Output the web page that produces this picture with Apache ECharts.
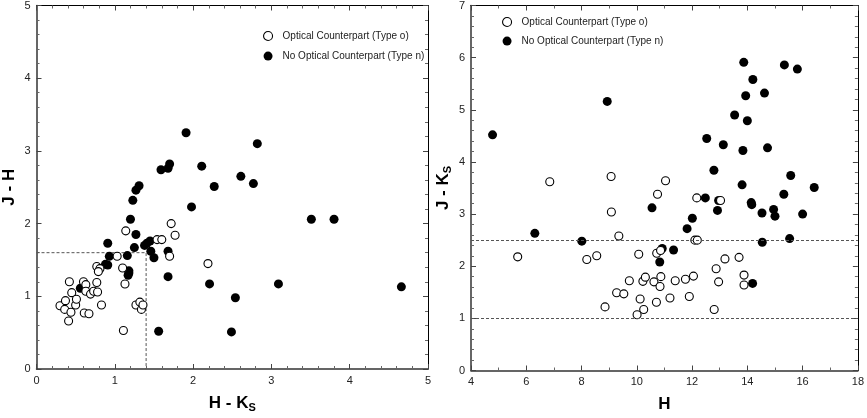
<!DOCTYPE html>
<html>
<head>
<meta charset="utf-8">
<script src="https://cdn.jsdelivr.net/npm/echarts@6/dist/echarts.min.js"></script>
<style>
html, body { margin: 0; padding: 0; background: #fff; }
#chart { width: 867px; height: 418px; }
</style>
</head>
<body>
<div id="chart"></div>
<script>
// left panel: [H - Ks, J - H]
var ccOptical = [
    [0.30, 0.87], [0.37, 0.94], [0.36, 0.82], [0.42, 1.20], [0.41, 0.66],
    [0.44, 0.78], [0.45, 1.05], [0.50, 0.88], [0.51, 0.96], [0.60, 1.20],
    [0.61, 0.77], [0.63, 1.16], [0.63, 1.07], [0.67, 0.76], [0.69, 1.03],
    [0.73, 1.07], [0.77, 1.19], [0.78, 1.06], [0.77, 1.41], [0.81, 1.38],
    [0.79, 1.34], [0.83, 0.88], [1.03, 1.55], [1.10, 1.39], [1.13, 1.17],
    [1.14, 1.90], [1.11, 0.53], [1.27, 0.88], [1.32, 0.92], [1.34, 0.82],
    [1.36, 0.88], [1.54, 1.78], [1.60, 1.78], [1.72, 2.00], [1.77, 1.84],
    [1.70, 1.55], [2.19, 1.45]
];
var ccNoOptical = [
    [0.56, 1.11], [0.91, 1.73], [0.93, 1.55], [0.88, 1.44], [0.91, 1.43],
    [1.16, 1.56], [1.20, 2.06], [1.23, 2.32], [1.27, 2.46], [1.31, 2.52],
    [1.27, 1.85], [1.25, 1.67], [1.18, 1.35], [1.17, 1.29], [1.18, 1.32],
    [1.38, 1.70], [1.41, 1.73], [1.45, 1.76], [1.46, 1.62], [1.50, 1.53],
    [1.56, 0.52], [1.59, 2.74], [1.68, 2.76], [1.70, 2.82], [1.68, 1.62],
    [1.68, 1.27], [1.91, 3.25], [1.98, 2.23], [2.11, 2.79], [2.21, 1.17],
    [2.27, 2.51], [2.49, 0.51], [2.54, 0.98], [2.61, 2.65], [2.77, 2.55],
    [2.82, 3.10], [3.09, 1.17], [3.51, 2.06], [3.80, 2.06], [4.66, 1.13]
];
// right panel: [H, J - Ks]
var cmOptical = [
    [5.69, 2.18], [6.85, 3.62], [8.19, 2.13], [8.55, 2.20], [8.85, 1.22],
    [9.07, 3.72], [9.08, 3.04], [9.27, 1.49], [9.35, 2.58], [9.53, 1.47],
    [9.73, 1.72], [10.01, 1.07], [10.07, 2.23], [10.12, 1.37], [10.22, 1.71],
    [10.25, 1.17], [10.31, 1.79], [10.62, 1.70], [10.71, 1.31], [10.72, 2.25],
    [10.75, 3.38], [10.84, 1.61], [10.87, 1.80], [10.86, 2.30], [11.04, 3.64],
    [11.20, 1.39], [11.39, 1.72], [11.76, 1.75], [11.90, 1.42], [12.05, 1.81],
    [12.10, 2.50], [12.19, 2.50], [12.17, 3.31], [12.80, 1.17], [12.87, 1.95],
    [12.96, 1.70], [13.03, 3.26], [13.19, 2.14], [13.70, 2.17], [13.88, 1.83],
    [13.88, 1.64]
];
var cmNoOptical = [
    [4.78, 4.52], [6.31, 2.63], [8.01, 2.48], [8.93, 5.16], [10.55, 3.12],
    [10.83, 2.08], [10.92, 2.34], [11.33, 2.31], [11.82, 2.72], [12.01, 2.92],
    [12.48, 3.31], [12.53, 4.45], [12.79, 3.84], [12.92, 3.07], [12.96, 3.26],
    [13.13, 4.33], [13.54, 4.90], [13.81, 3.56], [13.84, 4.22], [13.87, 5.91],
    [13.94, 5.27], [14.00, 4.79], [14.14, 3.22], [14.16, 3.18], [14.20, 5.58],
    [14.19, 1.67], [14.53, 3.02], [14.54, 2.46], [14.62, 5.32], [14.73, 4.27],
    [14.95, 3.09], [15.00, 2.96], [15.32, 3.38], [15.34, 5.86], [15.53, 2.53],
    [15.57, 3.74], [15.81, 5.78], [16.00, 3.00], [16.42, 3.51]
];
// dotted box in the left panel, dotted limits in the right panel
var ccBox = [[0, 1.6], [1.4, 1.6], [1.4, 0]];
var cmLimits = [2.5, 1.0];

var nameOptical = "Optical Counterpart (Type o)";
var nameNoOptical = "No Optical Counterpart (Type n)";

var font = "Liberation Sans";
var nameRich = {
    a: { fontFamily: font, fontSize: 17, fontWeight: "bold", color: "#000", lineHeight: 20 },
    s: { fontFamily: font, fontSize: 11, fontWeight: "bold", color: "#000", lineHeight: 12, verticalAlign: "bottom" }
};

function axis(opts) {
    var showLabel = opts.label !== false;
    return {
        type: "value",
        gridIndex: opts.grid,
        position: opts.position,
        min: opts.min,
        max: opts.max,
        interval: opts.interval,
        name: opts.name || "",
        nameLocation: "middle",
        nameGap: opts.nameGap || 0,
        nameTextStyle: { rich: nameRich },
        axisLine: { show: true, onZero: false, lineStyle: { color: opts.lineColor || "#000", width: opts.lineWidth || 1 } },
        axisTick: { show: true, inside: true, length: 5, lineStyle: { color: "#444" } },
        minorTick: { show: true, splitNumber: opts.minor, length: 3, lineStyle: { color: "#666" } },
        axisLabel: { show: showLabel, margin: 6, fontFamily: font, fontSize: 11, color: "#222" },
        splitLine: { show: false }
    };
}

function scatter(name, data, x, y, filled) {
    return {
        name: name,
        type: "scatter",
        xAxisIndex: x,
        yAxisIndex: y,
        data: data,
        symbol: "circle",
        symbolSize: filled ? 9 : 8,
        itemStyle: filled
            ? { color: "#000", borderColor: "#000", borderWidth: 0, opacity: 1 }
            : { color: "#fff", borderColor: "#000", borderWidth: 1.1, opacity: 1 },
        emphasis: { disabled: true },
        z: filled ? 3 : 4
    };
}

function legend(left, top, gap) {
    return {
        left: left,
        top: top,
        orient: "vertical",
        itemWidth: 9,
        itemHeight: 9,
        itemGap: gap,
        selectedMode: false,
        textStyle: { fontFamily: font, fontSize: 10, color: "#222", padding: [0, 0, 0, 5] },
        data: [
            { name: nameOptical, icon: "circle", itemStyle: { color: "#fff", borderColor: "#000", borderWidth: 1.1 } },
            { name: nameNoOptical, icon: "circle", itemStyle: { color: "#000" } }
        ]
    };
}

var chart = echarts.init(document.getElementById("chart"));
chart.setOption({
    animation: false,
    backgroundColor: "#fff",
    grid: [
        { left: 33, top: 3, width: 395, height: 373 },
        { left: 471, top: 3, width: 390, height: 374 }
    ],
    legend: [legend(258, 26, 10), legend(497, 12, 9)],
    xAxis: [
        axis({ grid: 0, position: "bottom", min: 0, max: 5, interval: 1, minor: 5, name: "{a|H - K}{s|S}", nameGap: 24, lineColor: "#333", lineWidth: 1.5 }),
        axis({ grid: 0, position: "top", min: 0, max: 5, interval: 1, minor: 5, label: false }),
        axis({ grid: 1, position: "bottom", min: 4, max: 18, interval: 2, minor: 2, name: "{a|H}", nameGap: 24, lineColor: "#333", lineWidth: 1.5 }),
        axis({ grid: 1, position: "top", min: 4, max: 18, interval: 2, minor: 2, label: false })
    ],
    yAxis: [
        axis({ grid: 0, position: "left", min: 0, max: 5, interval: 1, minor: 5, name: "{a|J - H}", nameGap: 17, lineColor: "#333", lineWidth: 1.5 }),
        axis({ grid: 0, position: "right", min: 0, max: 5, interval: 1, minor: 5, label: false }),
        axis({ grid: 1, position: "left", min: 0, max: 7, interval: 1, minor: 5, name: "{a|J - K}{s|S}", nameGap: 18, lineColor: "#333", lineWidth: 1.5 }),
        axis({ grid: 1, position: "right", min: 0, max: 7, interval: 1, minor: 5, label: false })
    ],
    series: [
        {
            type: "line",
            xAxisIndex: 0,
            yAxisIndex: 0,
            data: ccBox,
            symbol: "none",
            silent: true,
            lineStyle: { color: "#555", width: 1, type: [3, 2] },
            z: 1
        },
        scatter(nameOptical, ccOptical, 0, 0, false),
        scatter(nameNoOptical, ccNoOptical, 0, 0, true),
        {
            type: "scatter",
            xAxisIndex: 2,
            yAxisIndex: 2,
            data: [],
            markLine: {
                silent: true,
                symbol: "none",
                label: { show: false },
                lineStyle: { color: "#555", width: 1, type: [3, 2] },
                data: cmLimits.map(function (v) { return { yAxis: v }; })
            }
        },
        scatter(nameOptical, cmOptical, 2, 2, false),
        scatter(nameNoOptical, cmNoOptical, 2, 2, true)
    ]
});
</script>
</body>
</html>
